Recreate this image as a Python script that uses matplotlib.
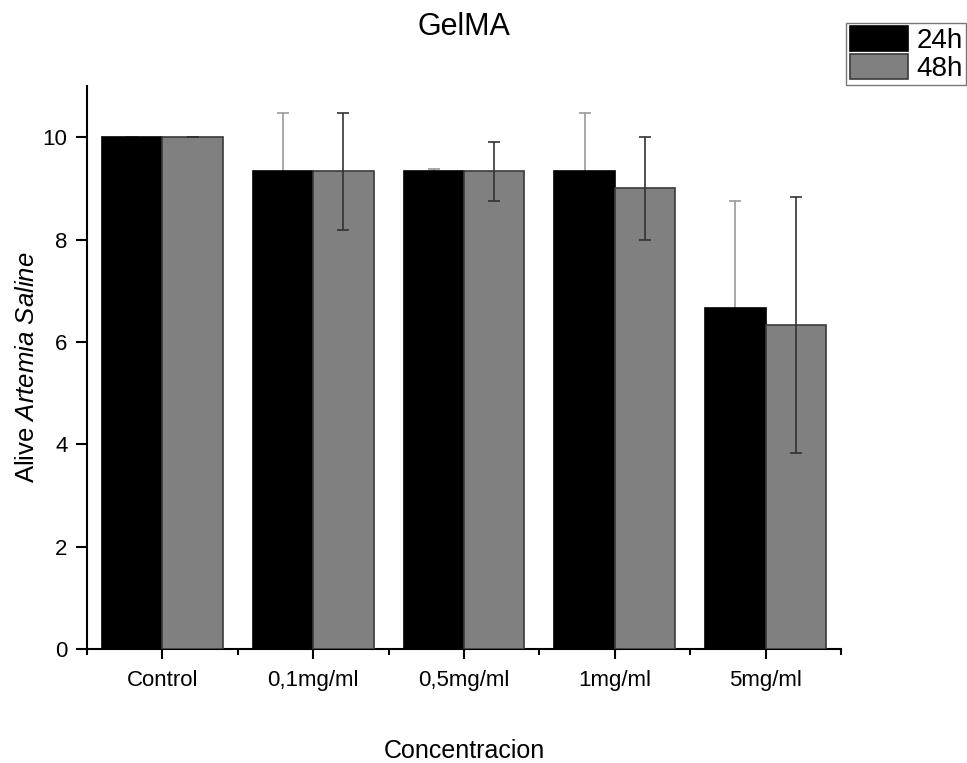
import matplotlib
matplotlib.use("Agg")
import matplotlib.pyplot as plt
import numpy as np
from matplotlib.ticker import FixedLocator

plt.rcParams['font.family'] = ['Liberation Sans', 'DejaVu Sans']
plt.rcParams['mathtext.fontset'] = 'custom'
plt.rcParams['mathtext.rm'] = 'Liberation Sans'
plt.rcParams['mathtext.it'] = 'Liberation Sans:italic'

categories = ["Control", "0,1mg/ml", "0,5mg/ml", "1mg/ml", "5mg/ml"]
series_names = ["24h", "48h"]
vals_24 = [10.0, 9.33, 9.33, 9.33, 6.67]
err_24 = [0.0, 1.15, 0.05, 1.15, 2.08]
vals_48 = [10.0, 9.33, 9.33, 9.0, 6.33]
err_48 = [0.0, 1.15, 0.57, 1.0, 2.51]

fig = plt.figure(figsize=(9.67, 7.63), dpi=100)
ax = fig.add_axes([0.09, 0.1494, 0.7797, 0.7379])

x = np.arange(1, len(categories) + 1)
w = 0.4
b1 = ax.bar(x - w/2, vals_24, w, color='black', edgecolor='black', linewidth=1.2,
            label=series_names[0], zorder=3)
b2 = ax.bar(x + w/2, vals_48, w, color='#808080', edgecolor='#3a3a3a', linewidth=1.2,
            label=series_names[1], zorder=3)
ax.errorbar(x - w/2, vals_24, yerr=err_24, fmt='none', ecolor='#999999',
            elinewidth=1.2, capsize=4, capthick=1.2, zorder=2)
ax.errorbar(x + w/2, vals_48, yerr=err_48, fmt='none', ecolor='#333333',
            elinewidth=1.2, capsize=4, capthick=1.2, zorder=4)

ax.set_xlim(0.5, 5.5)
ax.set_ylim(0, 11)
ax.set_xticks(x)
ax.set_xticklabels(categories, fontsize=16)
ax.xaxis.set_minor_locator(FixedLocator(np.arange(0.5, 5.6, 1.0)))
ax.set_yticks([0, 2, 4, 6, 8, 10])
ax.tick_params(axis='y', labelsize=16, direction='out', length=8, width=1.5, pad=6)
ax.tick_params(axis='x', which='major', direction='out', length=7, width=1.5, pad=8)
ax.tick_params(axis='x', which='minor', direction='out', length=4, width=1.5)
for s in ['top', 'right']:
    ax.spines[s].set_visible(False)
for s in ['left', 'bottom']:
    ax.spines[s].set_linewidth(1.5)

ax.set_xlabel("Concentracion", fontsize=18, labelpad=35)
ax.set_ylabel(r"Alive $\mathit{Artemia\ Saline}$", fontsize=18.5, labelpad=3)
ax.set_title("GelMA", fontsize=22, pad=37)

leg = fig.legend(handles=[b1, b2], loc='upper right', bbox_to_anchor=(0.999, 0.970),
                 fontsize=20, frameon=True, fancybox=False, edgecolor='#555555',
                 handlelength=2.1, handleheight=1.0, borderpad=0.12,
                 labelspacing=0.0, handletextpad=0.3, borderaxespad=0.0)
leg.get_frame().set_linewidth(1.0)

fig.savefig("out.png", dpi=100)
